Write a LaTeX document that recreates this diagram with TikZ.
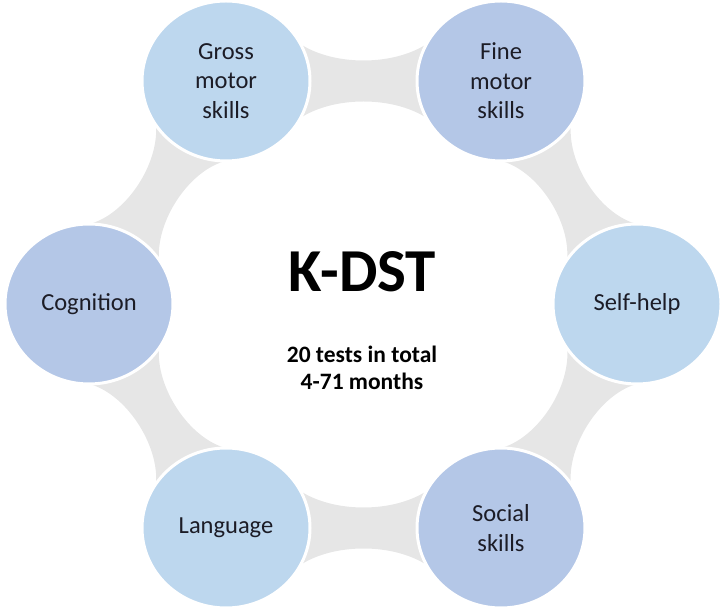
\documentclass[tikz,border=0pt]{standalone}
\usepackage{fontspec}
\setmainfont{Carlito}
\usetikzlibrary{calc,shapes.geometric,backgrounds}
\definecolor{bandgray}{HTML}{E6E6E6}
\definecolor{lightblue}{HTML}{BDD7EE}
\definecolor{midblue}{HTML}{B4C7E7}
\definecolor{txt}{HTML}{1C1C26}
\newcommand\bandbetween[2]{%
  \fill[band] ($(#1.center)!70pt!(#2.center)!40pt!90:(#2.center)$)
    .. controls ($(#1.center)!0.38!(#2.center)!14pt!90:(#2.center)$)
    and ($(#1.center)!0.62!(#2.center)!14pt!90:(#2.center)$)
    .. ($(#2.center)!70pt!(#1.center)!40pt!-90:(#1.center)$)
    -- (#2.center)
    -- ($(#2.center)!70pt!(#1.center)!40pt!90:(#1.center)$)
    .. controls ($(#1.center)!0.62!(#2.center)!14pt!-90:(#2.center)$)
    and ($(#1.center)!0.38!(#2.center)!14pt!-90:(#2.center)$)
    .. ($(#1.center)!70pt!(#2.center)!40pt!-90:(#2.center)$)
    -- (#1.center) -- cycle;}
\begin{document}
\begin{tikzpicture}[x=1pt,y=1pt,
  bubble/.style={ellipse, minimum width=168pt, minimum height=160pt, inner sep=0pt,
    draw=white, line width=3pt, align=center, text=txt,
    font=\fontsize{24.5}{29.5}\selectfont},
  band/.style={fill=bandgray},
  title/.style={font=\bfseries\fontsize{61}{72}\selectfont, text=black},
  subtitle/.style={font=\bfseries\fontsize{23.5}{27.5}\selectfont, align=center, text=black}]
\useasboundingbox (0,0) rectangle (723,613);
\node[bubble, fill=lightblue] (gross) at (226,532) {Gross\\motor\\skills};
\node[bubble, fill=midblue] (fine) at (501,532) {Fine\\motor\\skills};
\node[bubble, fill=lightblue] (self) at (637,309) {Self-help};
\node[bubble, fill=midblue] (social) at (501,85) {Social\\skills};
\node[bubble, fill=lightblue] (lang) at (226,85) {Language};
\node[bubble, fill=midblue] (cog) at (89,309) {Cognition};
\node[title] (kdst) at (362,341) {K-DST};
\node[subtitle] (sub) at (362,245) {20 tests in total\\4-71 months};
\begin{scope}[on background layer]
\bandbetween{gross}{fine}
\bandbetween{fine}{self}
\bandbetween{self}{social}
\bandbetween{social}{lang}
\bandbetween{lang}{cog}
\bandbetween{cog}{gross}
\end{scope}
\end{tikzpicture}
\end{document}
